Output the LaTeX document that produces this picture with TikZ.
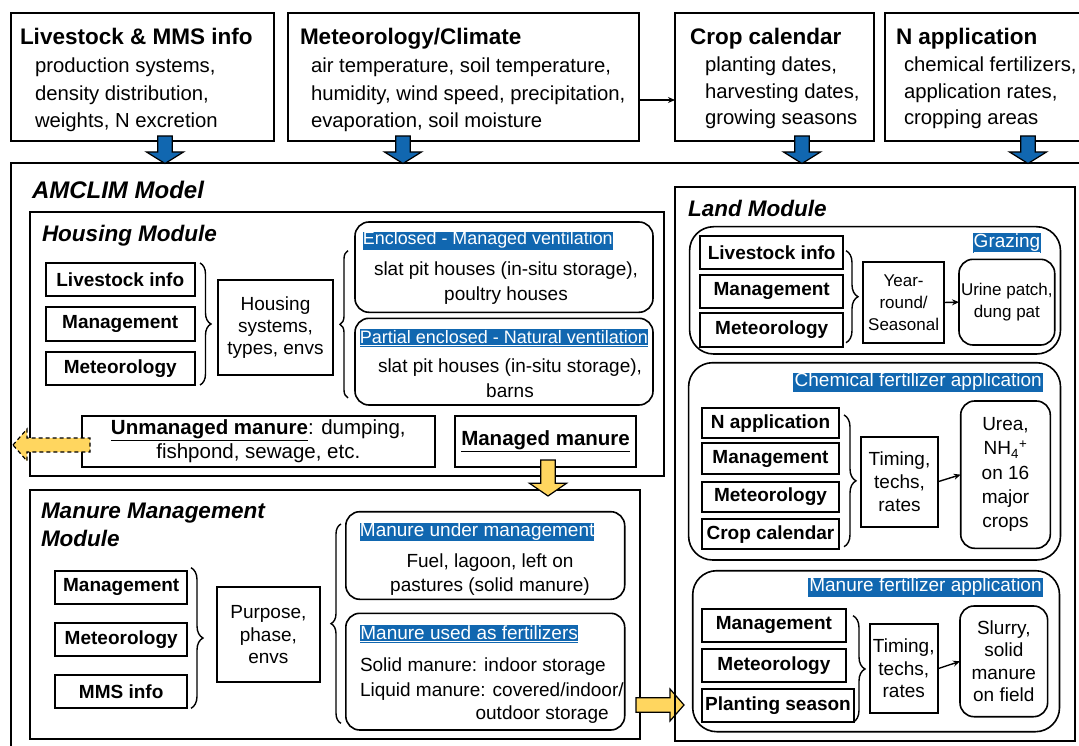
\documentclass[tikz,border=0pt]{standalone}
\usepackage{fontspec}
\setmainfont{Liberation Sans}
\usetikzlibrary{fit,decorations.pathreplacing,arrows.meta}
\definecolor{hlblue}{RGB}{17,103,176}
\definecolor{arrblue}{RGB}{17,103,176}
\definecolor{ayellow}{RGB}{255,214,95}
\tikzset{
 box/.style={draw, line width=2pt},
 rbox/.style={draw, line width=1.6pt, rounded corners=14pt},
 obox/.style={draw, line width=1.6pt, rounded corners=24pt},
 fs/.style 2 args={font=\fontsize{#1}{#2}\selectfont},
 lbl/.style={font=\bfseries\fontsize{19}{22}\selectfont},
 hdr/.style={font=\bfseries\fontsize{22.5}{26}\selectfont, anchor=base west},
 body/.style={font=\fontsize{20.3}{24}\selectfont, anchor=base west},
 modttl/.style={font=\bfseries\itshape\fontsize{22.5}{26}\selectfont, anchor=base west},
 ttl/.style={fill=hlblue},
 ttltext/.style={text=white},
 ctr/.style={align=center},
 brc/.style={decorate, decoration={brace, amplitude=#1}, line width=1.4pt},
 conn/.style={-{Stealth[length=7pt,width=6pt]}, line width=1.4pt},
 barrow/.style={draw=black, fill=arrblue, line width=1.2pt},
 yarrow/.style={draw=black, fill=ayellow, line width=1.2pt},
 pics/bdown/.style={code={\path[pic actions] (-7.3,0) -- (7.3,0) -- (7.3,-16) -- (18.5,-16) -- (0,-27.5) -- (-18.5,-16) -- (-7.3,-16) -- cycle;}},
 pics/ydown/.style={code={\path[pic actions] (-7.2,0) -- (7.2,0) -- (7.2,-23.3) -- (18.5,-23.3) -- (0,-36) -- (-18.5,-23.3) -- (-7.2,-23.3) -- cycle;}},
 pics/yright/.style={code={\path[pic actions] (0,7.2) -- (34,7.2) -- (34,16) -- (48,0) -- (34,-16) -- (34,-7.2) -- (0,-7.2) -- cycle;}},
 pics/yleft/.style={code={\path[pic actions] (0,0) -- (14,16) -- (14,7) -- (77,7) -- (77,-7) -- (14,-7) -- (14,-16) -- cycle;}},
}
\begin{document}
\begin{tikzpicture}[x=1pt,y=1pt, every node/.style={inner sep=0pt,outer sep=0pt}]
\useasboundingbox (0,0) rectangle (1079,-746);
\clip (0,0) rectangle (1079,-746);
\fill[white] (0,0) rectangle (1079,-746);

% ---------- top input boxes ----------
\node[box, fit={(11,-13)(274,-141)}] (tLiv) {};
\node[box, fit={(288,-13)(639,-141)}] (tMet) {};
\node[box, fit={(675,-13)(874,-141)}] (tCrop) {};
\node[box, fit={(885,-13)(1095,-141)}] (tN) {};

\node[hdr] (hLiv) at (20,-45) {Livestock \& MMS info};
\node[body] (b1a) at (35,-73) {production systems,};
\node[body] (b1b) at (35,-101) {density distribution,};
\node[body] (b1c) at (35,-128) {weights, N excretion};

\node[hdr] (hMet) at (300,-45) {Meteorology/Climate};
\node[body] (b2a) at (311,-73) {air temperature, soil temperature,};
\node[body] (b2b) at (311,-101) {humidity, wind speed, precipitation,};
\node[body] (b2c) at (311,-128) {evaporation, soil moisture};

\node[hdr] (hCrop) at (690,-45) {Crop calendar};
\node[body] (b3a) at (705,-71.5) {planting dates,};
\node[body] (b3b) at (705,-98.3) {harvesting dates,};
\node[body] (b3c) at (705,-125) {growing seasons};

\node[hdr] (hN) at (896,-45) {N application};
\node[body] (b4a) at (904,-71.5) {chemical fertilizers,};
\node[body] (b4b) at (904,-98.3) {application rates,};
\node[body] (b4c) at (904,-125) {cropping areas};

\draw[conn] ([yshift=-23pt]tMet.east) -- ([yshift=-23pt]tCrop.west);

% ---------- AMCLIM model ----------
\node[box, fit={(11,-163)(1095,-760)}] (amclim) {};
\node[font=\bfseries\itshape\fontsize{24}{28}\selectfont, anchor=base west] (amTitle) at (32,-199) {AMCLIM Model};

\pic[barrow] at (165,-136) {bdown};
\pic[barrow] at (403,-136) {bdown};
\pic[barrow] at (802,-136) {bdown};
\pic[barrow] at (1028,-136) {bdown};

% ---------- Housing module ----------
\node[box, fit={(30,-211.7)(664,-476)}] (housing) {};
\node[modttl] (hsTitle) at (42,-242) {Housing Module};
\node[box, fit={(45.5,-263)(195,-296)}] (hsLiv) {};
\node[lbl] (hsLivT) at (hsLiv.center) {Livestock info};
\node[box, fit={(45.5,-307.3)(195,-340.7)}] (hsMan) {};
\node[lbl] (hsManT) at (hsMan.center) {Management};
\node[box, fit={(45.5,-352.3)(195,-385)}] (hsMet) {};
\node[lbl] (hsMetT) at (hsMet.center) {Meteorology};
\draw[brc=11pt] (200,-263) -- (200,-385);
\node[box, fit={(218,-280)(333,-375)}] (hsSys) {};
\node[fs={19}{22}, ctr] (hsSysT) at (hsSys.center) {Housing\\systems,\\types, envs};
\draw[brc=8pt] (348,-398) -- (348,-250.7);

\node[rbox, fit={(355,-222)(653,-312.3)}] (hsEnc) {};
\node[ttl, fit={(362.7,-231.7)(613,-250.7)}] (hsEncH) {};
\node[ttltext, fs={17.9}{21}] (hsEncT) at (hsEncH.center) {\underline{Enclosed - Managed ventilation}};
\node[fs={19}{25}, ctr] (hsEncB) at (506,-283.5) {slat pit houses (in-situ storage),\\poultry houses};

\node[rbox, fit={(355,-318.3)(653,-405)}] (hsPar) {};
\node[ttl, fit={(360,-329)(647.7,-346.7)}] (hsParH) {};
\node[ttltext, fs={18}{21}] (hsParT) at (hsParH.center) {\underline{Partial enclosed - Natural ventilation}};
\node[fs={19}{25}, ctr] (hsParB) at (510,-378.5) {slat pit houses (in-situ storage),\\barns};

\node[box, fit={(81.6,-415.7)(435,-466.7)}] (unman) {};
\node[fs={20.5}{24}, ctr] (unmanT) at (unman.center) {\textbf{\underline{Unmanaged manure}}: dumping,\\fishpond, sewage, etc.};
\node[box, fit={(454.7,-415.7)(636.4,-466.7)}] (man) {};
\node[font=\bfseries\fontsize{20.5}{24}\selectfont] (manT) at (man.center) {\underline{Managed manure}};

\pic[yarrow, dashed, dash pattern=on 4pt off 3pt] at (13,-445) {yleft};

% ---------- Manure management module ----------
\node[box, fit={(29.5,-490)(640.4,-739.3)}] (mmm) {};
\node[modttl] (mmTitleA) at (41,-518.3) {Manure Management};
\node[modttl] (mmTitleB) at (41,-546) {Module};
\node[box, fit={(55,-570.7)(187.4,-604)}] (mmMan) {};
\node[lbl] (mmManT) at (mmMan.center) {Management};
\node[box, fit={(55,-622.7)(187.4,-656)}] (mmMet) {};
\node[lbl] (mmMetT) at (mmMet.center) {Meteorology};
\node[box, fit={(55,-674.7)(187.4,-708.3)}] (mmMMS) {};
\node[lbl] (mmMMST) at (mmMMS.center) {MMS info};
\draw[brc=12pt] (191,-567.7) -- (191,-708.3);
\node[box, fit={(217,-587.3)(319.7,-682)}] (mmPur) {};
\node[fs={19}{22.7}, ctr] (mmPurT) at (mmPur.center) {Purpose,\\phase,\\envs};
\draw[brc=10pt] (341,-723.3) -- (341,-524);

\node[rbox, fit={(345.8,-511.7)(624.7,-599.3)}] (mmUnder) {};
\node[ttl, fit={(360,-523.3)(594.4,-541)}] (mmUnderH) {};
\node[ttltext, fs={19}{22}] (mmUnderT) at (mmUnderH.center) {\underline{Manure under management}};
\node[fs={19}{24.7}, ctr] (mmUnderB) at (490,-574.5) {Fuel, lagoon, left on\\pastures (solid manure)};

\node[rbox, fit={(345.8,-613.3)(624.7,-730)}] (mmFert) {};
\node[ttl, fit={(360,-625)(578.3,-642.7)}] (mmFertH) {};
\node[ttltext, fs={19}{22}] (mmFertT) at (mmFertH.center) {\underline{Manure used as fertilizers}};
\node[fs={19}{22}, anchor=base west] (mmFa) at (360,-671.7) {Solid manure: indoor storage};
\node[fs={19}{22}, anchor=base west] (mmFb) at (360,-696.7) {Liquid manure: covered/indoor/};
\node[fs={19}{22}, anchor=base east] (mmFc) at (608.7,-719.3) {outdoor storage};

\pic[yarrow] at (548,-460) {ydown};
\pic[yarrow] at (636,-705) {yright};

% ---------- Land module ----------
\node[box, fit={(675,-187.3)(1074.7,-740.7)}] (land) {};
\node[modttl] (ldTitle) at (688,-217) {Land Module};

\node[obox, fit={(689.6,-226.7)(1060.5,-354)}] (graz) {};
\node[ttl, fit={(973,-233.3)(1041,-253.3)}] (grazH) {};
\node[ttltext, fs={19}{22}] (grazT) at (grazH.center) {\underline{Grazing}};
\node[box, fit={(700.4,-236)(843,-269.3)}] (gzLiv) {};
\node[lbl] (gzLivT) at (gzLiv.center) {Livestock info};
\node[box, fit={(700.4,-274.7)(843,-308)}] (gzMan) {};
\node[lbl] (gzManT) at (gzMan.center) {Management};
\node[box, fit={(700.4,-313.3)(843,-346.7)}] (gzMet) {};
\node[lbl] (gzMetT) at (gzMet.center) {Meteorology};
\draw[brc=12pt] (846,-250.7) -- (846,-342.7);
\node[box, fit={(863.4,-261.7)(943.8,-343.3)}] (gzYr) {};
\node[fs={17}{22}, ctr] (gzYrT) at (gzYr.center) {Year-\\round/\\Seasonal};
\node[rbox, fit={(959,-259.3)(1054.7,-345)}] (gzUr) {};
\node[fs={17}{22.5}, ctr] (gzUrT) at (gzUr.center) {Urine patch,\\dung pat};
\draw[conn] (gzYr.east) -- (gzUr.west);

\node[obox, fit={(688.6,-362.7)(1060.5,-560)}] (chem) {};
\node[ttl, fit={(793.4,-372.7)(1043,-392.3)}] (chemH) {};
\node[ttltext, fs={19}{22}] (chemT) at (chemH.center) {\underline{Chemical fertilizer application}};
\node[box, fit={(702,-408.3)(839,-438.3)}] (chN) {};
\node[lbl] (chNT) at (chN.center) {N application};
\node[box, fit={(702,-443.3)(839,-474)}] (chMan) {};
\node[lbl] (chManT) at (chMan.center) {Management};
\node[box, fit={(702,-481.7)(839,-512.3)}] (chMet) {};
\node[lbl] (chMetT) at (chMet.center) {Meteorology};
\node[box, fit={(702,-519)(839,-549.3)}] (chCrop) {};
\node[lbl] (chCropT) at (chCrop.center) {Crop calendar};
\draw[brc=12pt] (844,-415) -- (844,-546.7);
\node[box, fit={(861,-436.7)(938,-526.7)}] (chTim) {};
\node[fs={19}{23}, ctr] (chTimT) at (chTim.center) {Timing,\\techs,\\rates};
\node[rbox, fit={(960.7,-401)(1050.3,-548.3)}] (chUrea) {};
\node[fs={19}{24.3}, ctr] (chUreaT) at (chUrea.center) {Urea,\\NH\textsubscript{4}\textsuperscript{+}\\on 16\\major\\crops};
\draw[conn] (chTim.east) -- (chUrea.west);

\node[obox, fit={(692.7,-570.7)(1059.5,-731.7)}] (mfa) {};
\node[ttl, fit={(808,-578.3)(1043,-596.7)}] (mfaH) {};
\node[ttltext, fs={19}{22}] (mfaT) at (mfaH.center) {\underline{Manure fertilizer application}};
\node[box, fit={(702,-609)(845.8,-641.7)}] (mfMan) {};
\node[lbl] (mfManT) at (mfMan.center) {Management};
\node[box, fit={(702,-649)(845.8,-681.7)}] (mfMet) {};
\node[lbl] (mfMetT) at (mfMet.center) {Meteorology};
\node[box, fit={(702,-689.3)(854,-722.3)}] (mfPl) {};
\node[lbl] (mfPlT) at (mfPl.center) {Planting season};
\draw[brc=12pt] (853,-615.7) -- (853,-722.3);
\node[box, fit={(869.5,-624)(938,-713.3)}] (mfTim) {};
\node[fs={19}{22.5}, ctr] (mfTimT) at (mfTim.center) {Timing,\\techs,\\rates};
\node[rbox, fit={(960,-606)(1047.6,-716.7)}] (mfSl) {};
\node[fs={19}{22.3}, ctr] (mfSlT) at (mfSl.center) {Slurry,\\solid\\manure\\on field};
\draw[conn] (mfTim.east) -- (mfSl.west);
\end{tikzpicture}
\end{document}
